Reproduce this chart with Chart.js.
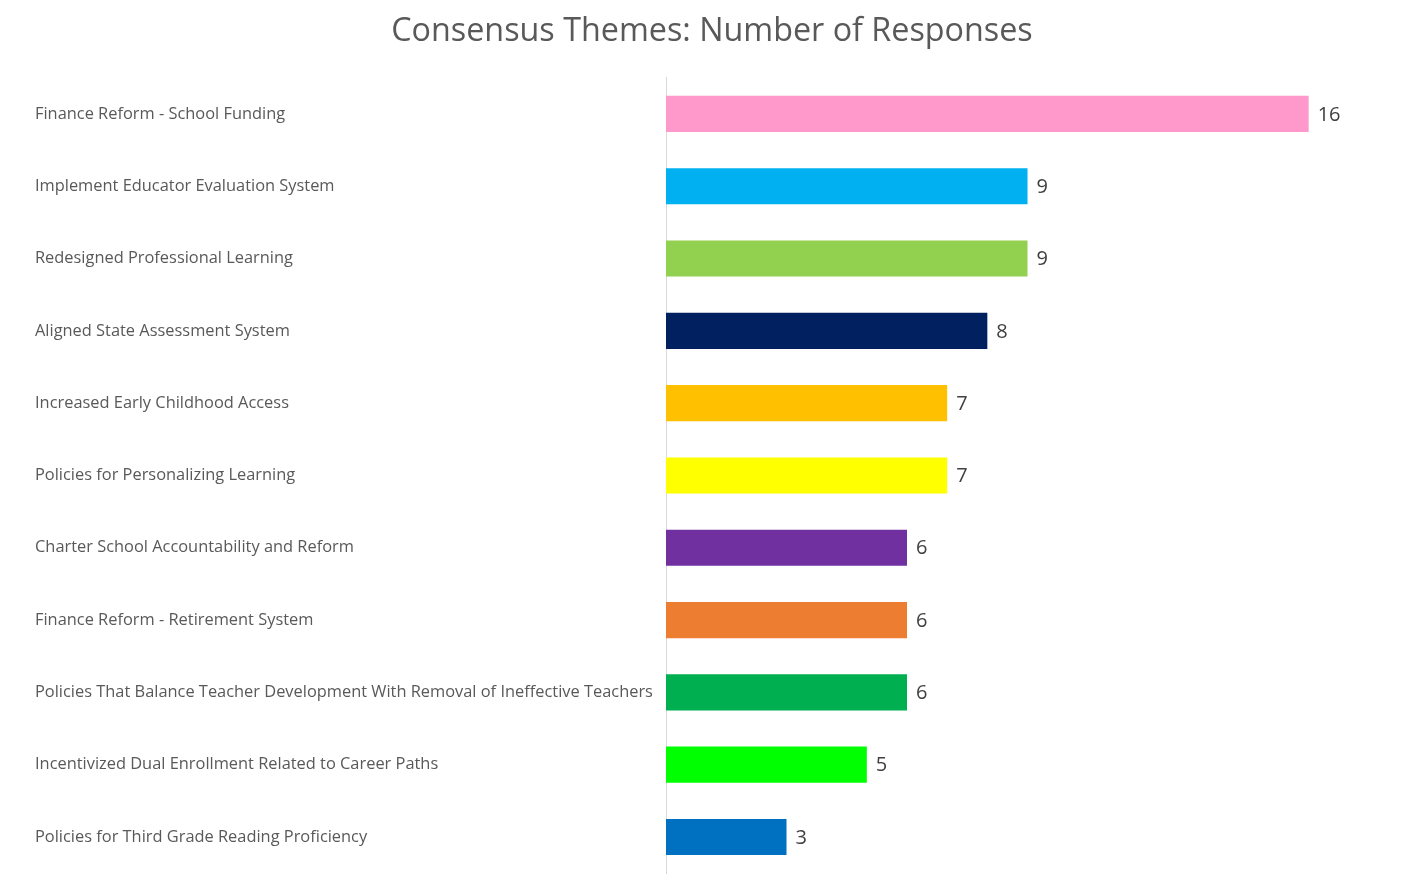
<!DOCTYPE html>
<html>
<head>
<meta charset="utf-8">
<script src="https://cdn.jsdelivr.net/npm/chart.js@4.4.1/dist/chart.umd.min.js"></script>
<style>
    html, body { margin: 0; padding: 0; background: #fff; }
    #wrap { width: 1413px; height: 895px; position: relative; }
</style>
</head>
<body>
<div id="wrap"><canvas id="barChart"></canvas></div>
<script>
const categories = [
    'Finance Reform - School Funding',
    'Implement Educator Evaluation System',
    'Redesigned Professional Learning',
    'Aligned State Assessment System',
    'Increased Early Childhood Access',
    'Policies for Personalizing Learning',
    'Charter School Accountability and Reform',
    'Finance Reform - Retirement System',
    'Policies That Balance Teacher Development With Removal of Ineffective Teachers',
    'Incentivized Dual Enrollment Related to Career Paths',
    'Policies for Third Grade Reading Proficiency'
];
const responses = [16, 9, 9, 8, 7, 7, 6, 6, 6, 5, 3];
const barColors = [
    '#FF99CC', '#00B0F0', '#92D050', '#002060', '#FFC000', '#FFFF00',
    '#7030A0', '#ED7D31', '#00B050', '#00FF00', '#0070C0'
];

// draws the count next to the end of each bar
const valueLabels = {
    id: 'valueLabels',
    afterDatasetsDraw(chart) {
        const ctx = chart.ctx;
        const meta = chart.getDatasetMeta(0);
        ctx.save();
        ctx.font = '20px "Open Sans"';
        ctx.fillStyle = '#404040';
        ctx.textAlign = 'left';
        ctx.textBaseline = 'middle';
        meta.data.forEach(function (bar, i) {
            ctx.fillText(String(responses[i]), bar.x + 9, bar.y + 1);
        });
        ctx.restore();
    }
};

const ctx = document.getElementById('barChart').getContext('2d');
new Chart(ctx, {
    type: 'bar',
    data: {
        labels: categories,
        datasets: [{
            data: responses,
            backgroundColor: barColors,
            borderWidth: 0,
            barPercentage: 0.5,
            categoryPercentage: 1
        }]
    },
    options: {
        indexAxis: 'y',
        responsive: true,
        maintainAspectRatio: false,
        animation: false,
        layout: {
            padding: { left: 35, right: 24, top: 0, bottom: 14 }
        },
        plugins: {
            legend: { display: false },
            tooltip: { enabled: false },
            title: {
                display: true,
                text: 'Consensus Themes: Number of Responses',
                color: '#595959',
                font: { family: '"Open Sans"', size: 32.3, weight: 'normal' },
                padding: { top: 12, bottom: 27 }
            }
        },
        scales: {
            x: {
                display: false,
                min: 0,
                max: 18
            },
            y: {
                grid: { display: false },
                border: { display: true, color: '#d9d9d9', width: 1 },
                ticks: {
                    crossAlign: 'far',
                    color: '#595959',
                    padding: 12,
                    font: { family: '"Open Sans"', size: 16.4 }
                },
                afterFit: function (scale) {
                    scale.width = 631;
                }
            }
        }
    },
    plugins: [valueLabels]
});
</script>
</body>
</html>
